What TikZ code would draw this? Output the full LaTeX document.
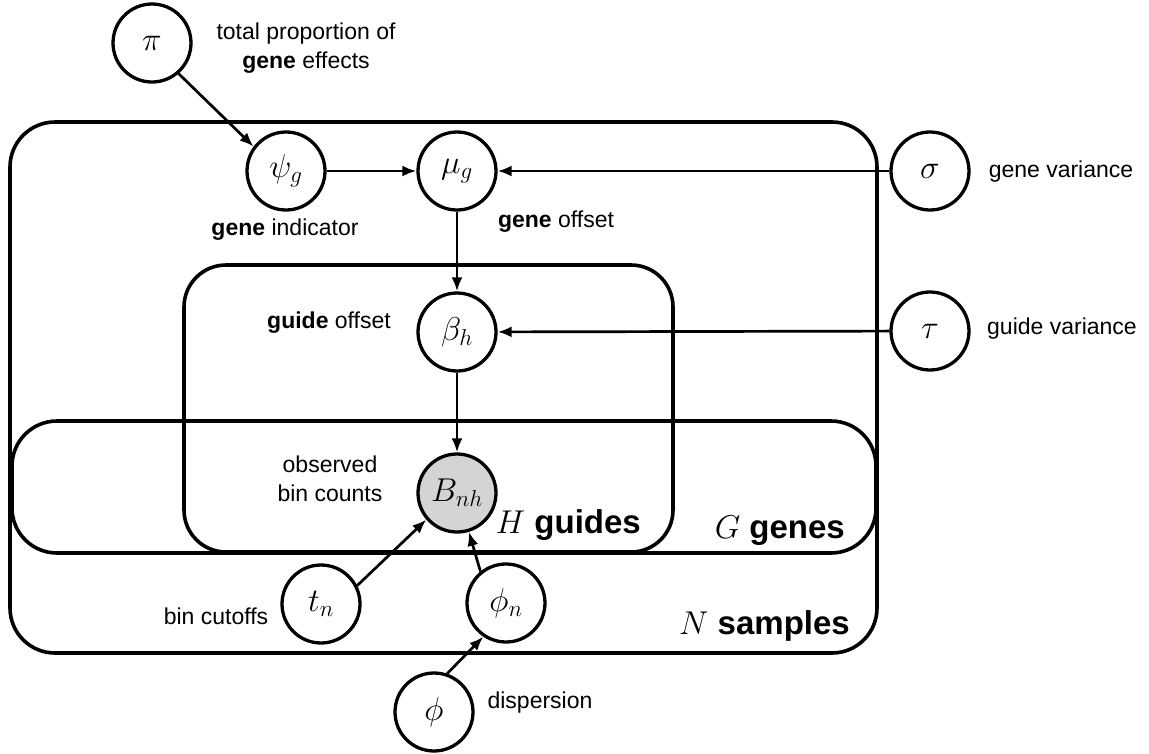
\RequirePackage{fix-cm}
\documentclass[tikz,border=0pt]{standalone}
\usepackage{fontspec}
\setmainfont{Liberation Sans}
\usetikzlibrary{arrows.meta}
\begin{document}
\begin{tikzpicture}[x=1pt,y=-1pt,
  var/.style={circle,draw,fill=white,line width=3.3pt,minimum size=78pt,inner sep=0pt,font=\fontsize{33}{38}\selectfont},
  obs/.style={var,fill=black!17},
  plate/.style={draw,line width=3.6pt,rounded corners=45pt},
  lbl/.style={font=\fontsize{23}{29}\selectfont,align=center,inner sep=0pt},
  platelbl/.style={font=\fontsize{33}{38}\selectfont\bfseries,inner sep=0pt,anchor=base east},
  arr/.style={-{Latex[length=14pt,width=11pt]},line width=2.7pt}]
\useasboundingbox (0,0) rectangle (1149,753);
% plates
\draw[plate] (10,122) rectangle (877,653);
\draw[plate] (12,421) rectangle (876,553);
\draw[plate,rounded corners=42pt] (184,265) rectangle (673,552);
% plate labels
\node[platelbl] (Nlab) at (850,634) {$N$ samples};
\node[platelbl] (Glab) at (845,538) {$G$ genes};
\node[platelbl] (Hlab) at (641,533) {$H$ guides};
% variables
\node[var] (pi) at (152,43) {$\pi$};
\node[var] (psi) at (286,171) {$\psi_g$};
\node[var] (mu) at (457,171) {$\mu_g$};
\node[var] (sigma) at (930,171) {$\sigma$};
\node[var] (beta) at (457,332) {$\beta_h$};
\node[var] (tau) at (930,331) {$\tau$};
\node[obs] (B) at (457,493) {$B_{nh}$};
\node[var] (tn) at (321,604) {$t_n$};
\node[var] (phin) at (506,603) {$\phi_n$};
\node[var] (phi) at (434,712) {$\phi$};
% labels
\node[lbl] (lpi) at (306,48) {total proportion of\\\textbf{gene} effects};
\node[lbl] (lpsi) at (285,230) {\textbf{gene} indicator};
\node[lbl] (lmu) at (556,222) {\textbf{gene} offset};
\node[lbl] (lsigma) at (1061,172) {gene variance};
\node[lbl] (lbeta) at (329,323) {\textbf{guide} offset};
\node[lbl] (ltau) at (1062,329) {guide variance};
\node[lbl] (lB) at (330,479) {observed\\bin counts};
\node[lbl] (ltn) at (216,616) {bin cutoffs};
\node[lbl] (lphi) at (540,703) {dispersion};
% edges
\draw[arr] (pi.-49) -- (psi.143);
\draw[arr] (psi) -- (mu);
\draw[arr] (sigma) -- (mu);
\draw[arr] (mu) -- (beta);
\draw[arr] (tau) -- (beta);
\draw[arr] (beta) -- (B);
\draw[arr] (tn.27) -- (B.221);
\draw[arr] (phin.129) -- (B.287);
\draw[arr] (phi.71) -- (phin.236);
\end{tikzpicture}
\end{document}
